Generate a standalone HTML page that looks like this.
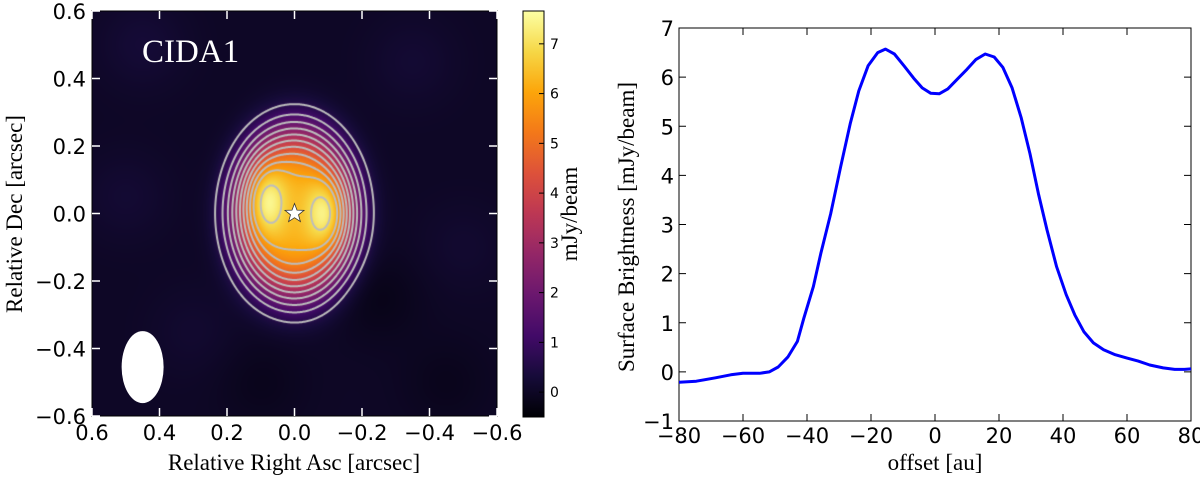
<!DOCTYPE html>
<html><head><meta charset="utf-8">
<style>
html,body{margin:0;padding:0;background:#fff;width:1200px;height:480px;overflow:hidden}
svg{position:absolute;left:0;top:0}
canvas{position:absolute}
</style></head>
<body>
<canvas id="hm" width="405" height="405" style="left:92px;top:11px"></canvas>
<svg id="s" width="1200" height="480"></svg>
<script>
// ---- data ----
const diskAmp=6.2;
const diskScaleX=0.185, diskScaleY=0.255, diskPow=3.6;
const raComp=[0.085,-0.095];
const decComp=[0.04,0.0];
const ampComp=[1.6,1.6];
const sxComp=[0.04,0.04];
const syComp=[0.075,0.07];
const bgLevel=0.02;
const noiseRa=[0.45,-0.35,-0.25,0.3,-0.5,0.1,0.5,-0.45];
const noiseDec=[0.5,0.45,-0.25,-0.35,-0.1,-0.5,0.05,-0.5];
const noiseAmp=[0.25,0.2,-0.2,0.15,0.15,-0.15,0.2,-0.15];
const contourLevels=[0.6,1.2,1.8,2.4,3.0,3.6,4.2,4.8,5.4,6.0,7.0];
const cbTicks=[0,1,2,3,4,5,6,7];
const axTicks=[0.6,0.4,0.2,0.0,-0.2,-0.4,-0.6];
const offsetAu=[-80,-74.6,-68.6,-63.8,-60,-54.8,-51.8,-49,-46,-43,-41,-38,-35.7,-32.6,-29.5,-26.5,-23.8,-20.9,-17.9,-15.5,-12.7,-9.7,-6.7,-4,-1.3,1.3,4,7,10,12.8,15.7,18.5,21.2,24.1,26.9,29.7,32.3,35,38,41,43.7,46.5,49.5,52.7,56.3,60,63.5,67.1,71.3,74.9,78,80];
const brightness=[-0.21,-0.19,-0.12,-0.06,-0.03,-0.03,0.0,0.1,0.3,0.62,1.09,1.74,2.41,3.22,4.17,5.05,5.72,6.23,6.5,6.57,6.47,6.23,5.98,5.78,5.67,5.66,5.76,5.96,6.16,6.36,6.47,6.41,6.2,5.78,5.18,4.44,3.63,2.89,2.14,1.57,1.16,0.82,0.59,0.45,0.35,0.28,0.22,0.14,0.08,0.05,0.05,0.06];
const xTicksR=[-80,-60,-40,-20,0,20,40,60,80];
const yTicksR=[-1,0,1,2,3,4,5,6,7];

const NS='http://www.w3.org/2000/svg';
const svg=document.getElementById('s');
function el(t,a,txt){const e=document.createElementNS(NS,t);for(const k in a)e.setAttribute(k,a[k]);if(txt!==undefined)e.textContent=txt;svg.appendChild(e);return e;}

const inf=[[0,0,4],[22,11,57],[66,10,104],[106,23,110],[147,38,103],[188,55,84],[221,81,58],[243,120,25],[252,165,10],[246,215,70],[252,255,164]];
function cmap(t){t=Math.max(0,Math.min(1,t))*10;const i=Math.min(9,Math.floor(t)),f=t-i;const a=inf[i],b=inf[i+1];return [a[0]+(b[0]-a[0])*f,a[1]+(b[1]-a[1])*f,a[2]+(b[2]-a[2])*f];}
const vmin=-0.5,vmax=7.66;

const L={x0:92,x1:497,y0:11,y1:416};
const sxL=ra=>L.x0+(0.6-ra)/1.2*(L.x1-L.x0);
const syL=d=>L.y0+(0.6-d)/1.2*(L.y1-L.y0);
function field(ra,dec){
  const r=Math.sqrt(Math.pow(ra/diskScaleX,2)+Math.pow(dec/diskScaleY,2));
  let v=bgLevel+diskAmp*Math.exp(-Math.pow(r,diskPow));
  for(let i=0;i<raComp.length;i++){const dx=(ra-raComp[i])/sxComp[i],dy=(dec-decComp[i])/syComp[i];v+=ampComp[i]*Math.exp(-0.5*(dx*dx+dy*dy));}
  for(let i=0;i<noiseRa.length;i++){const dx=(ra-noiseRa[i])/0.09,dy=(dec-noiseDec[i])/0.09;v+=noiseAmp[i]*Math.exp(-0.5*(dx*dx+dy*dy));}
  return v;}
const cv=document.getElementById('hm'),ctx=cv.getContext('2d');
const W=405,H=405,img=ctx.createImageData(W,H),F=new Float32Array(W*H);
for(let j=0;j<H;j++)for(let i=0;i<W;i++){const ra=0.6-(i+0.5)/W*1.2,dec=0.6-(j+0.5)/H*1.2;F[j*W+i]=field(ra,dec);}
for(let k=0;k<W*H;k++){const c=cmap((F[k]-vmin)/(vmax-vmin));img.data[k*4]=c[0];img.data[k*4+1]=c[1];img.data[k*4+2]=c[2];img.data[k*4+3]=255;}
ctx.putImageData(img,0,0);
ctx.strokeStyle='#bdbdbd';ctx.lineWidth=2;ctx.lineCap='round';
for(const Lv of contourLevels){
  ctx.beginPath();
  for(let j=0;j<H-1;j++)for(let i=0;i<W-1;i++){
    const a=F[j*W+i],b=F[j*W+i+1],c=F[(j+1)*W+i+1],d=F[(j+1)*W+i];
    const pts=[];
    if((a>=Lv)!==(b>=Lv))pts.push([i+(Lv-a)/(b-a),j]);
    if((b>=Lv)!==(c>=Lv))pts.push([i+1,j+(Lv-b)/(c-b)]);
    if((d>=Lv)!==(c>=Lv))pts.push([i+(Lv-d)/(c-d),j+1]);
    if((a>=Lv)!==(d>=Lv))pts.push([i,j+(Lv-a)/(d-a)]);
    if(pts.length>=2){ctx.moveTo(pts[0][0]+0.5,pts[0][1]+0.5);ctx.lineTo(pts[1][0]+0.5,pts[1][1]+0.5);}
    if(pts.length===4){ctx.moveTo(pts[2][0]+0.5,pts[2][1]+0.5);ctx.lineTo(pts[3][0]+0.5,pts[3][1]+0.5);}
  }
  ctx.stroke();
}

let e=el('ellipse',{cx:sxL(0.45),cy:syL(-0.455),rx:21,ry:36,fill:'#fff'});

function star(cx,cy,R,r){let p=[];for(let k=0;k<10;k++){const a=-Math.PI/2+k*Math.PI/5,rr=k%2?r:R;p.push((cx+rr*Math.cos(a)).toFixed(1)+','+(cy+rr*Math.sin(a)).toFixed(1));}return p.join(' ');}
e=el('polygon',{points:star(sxL(0),syL(0),10,4.2),fill:'#fff',stroke:'#333','stroke-width':0.8});

e=el('text',{x:142,y:62,fill:'#fff','font-family':'Liberation Serif, serif','font-size':33},'CIDA1');


e=el('rect',{x:L.x0,y:L.y0,width:L.x1-L.x0,height:L.y1-L.y0,fill:'none',stroke:'#000','stroke-width':1});

for(const t of axTicks){
  const x=sxL(t),y=syL(t);
  el('line',{x1:x,y1:L.y1,x2:x,y2:L.y1-8,stroke:'#fff','stroke-width':1.5});
  el('line',{x1:x,y1:L.y0,x2:x,y2:L.y0+8,stroke:'#fff','stroke-width':1.5});
  el('line',{x1:L.x0,y1:y,x2:L.x0+8,y2:y,stroke:'#fff','stroke-width':1.5});
  el('line',{x1:L.x1,y1:y,x2:L.x1-8,y2:y,stroke:'#fff','stroke-width':1.5});
  const lab=(t<0?'−':'')+Math.abs(t).toFixed(1);
  e=el('text',{x:x,y:440,'text-anchor':'middle','font-family':'DejaVu Sans, sans-serif','font-size':21},lab);
  
  e=el('text',{x:86,y:y+8,'text-anchor':'end','font-family':'DejaVu Sans, sans-serif','font-size':21},lab);
  
}
e=el('text',{x:294,y:470,'text-anchor':'middle','font-family':'Liberation Serif, serif','font-size':23},'Relative Right Asc [arcsec]');

e=el('text',{x:0,y:0,transform:'translate(22,214) rotate(-90)','text-anchor':'middle','font-family':'Liberation Serif, serif','font-size':23},'Relative Dec [arcsec]');


const C={x0:523,x1:544,y0:11,y1:417};
const defs=el('defs',{});
const g=document.createElementNS(NS,'linearGradient');g.setAttribute('id','cbg');g.setAttribute('x1','0');g.setAttribute('y1','1');g.setAttribute('x2','0');g.setAttribute('y2','0');defs.appendChild(g);
for(let k=0;k<=20;k++){const c=cmap(k/20);const st=document.createElementNS(NS,'stop');st.setAttribute('offset',k/20);st.setAttribute('stop-color','rgb('+c.map(Math.round).join(',')+')');g.appendChild(st);}
e=el('rect',{x:C.x0,y:C.y0,width:C.x1-C.x0,height:C.y1-C.y0,fill:'url(#cbg)',stroke:'#000','stroke-width':1});

const syC=v=>C.y1-(v-vmin)/(vmax-vmin)*(C.y1-C.y0);
for(const t of cbTicks){const y=syC(t);el('line',{x1:C.x1,y1:y,x2:C.x1-5,y2:y,stroke:'#000','stroke-width':1});
  e=el('text',{x:550,y:y+5,'font-family':'DejaVu Sans, sans-serif','font-size':14},String(t));
  }
e=el('text',{x:0,y:0,transform:'translate(577,214) rotate(-90)','text-anchor':'middle','font-family':'Liberation Serif, serif','font-size':23},'mJy/beam');


const R={x0:679,x1:1191,y0:28,y1:421};
const sxR=v=>R.x0+(v+80)/160*(R.x1-R.x0);
const syR=v=>R.y1-(v+1)/8*(R.y1-R.y0);
e=el('rect',{x:R.x0,y:R.y0,width:R.x1-R.x0,height:R.y1-R.y0,fill:'none',stroke:'#000','stroke-width':1});

for(const t of xTicksR){const x=sxR(t);el('line',{x1:x,y1:R.y1,x2:x,y2:R.y1-7,stroke:'#000'});el('line',{x1:x,y1:R.y0,x2:x,y2:R.y0+7,stroke:'#000'});
  e=el('text',{x:x,y:443,'text-anchor':'middle','font-family':'DejaVu Sans, sans-serif','font-size':21},(t<0?'−':'')+Math.abs(t));
  }
for(const t of yTicksR){const y=syR(t);el('line',{x1:R.x0,y1:y,x2:R.x0+7,y2:y,stroke:'#000'});el('line',{x1:R.x1,y1:y,x2:R.x1-7,y2:y,stroke:'#000'});
  e=el('text',{x:674,y:y+8,'text-anchor':'end','font-family':'DejaVu Sans, sans-serif','font-size':21},(t<0?'−':'')+Math.abs(t));
  }
let d='';offsetAu.forEach((v,i)=>{d+=(i?'L':'M')+sxR(v).toFixed(1)+','+syR(brightness[i]).toFixed(1);});
e=el('path',{d:d,fill:'none',stroke:'#0000ff','stroke-width':3,'stroke-linejoin':'round'});

e=el('text',{x:935,y:470,'text-anchor':'middle','font-family':'Liberation Serif, serif','font-size':23},'offset [au]');

e=el('text',{x:0,y:0,transform:'translate(634,227) rotate(-90)','text-anchor':'middle','font-family':'Liberation Serif, serif','font-size':23},'Surface Brightness [mJy/beam]');

</script>
</body></html>
